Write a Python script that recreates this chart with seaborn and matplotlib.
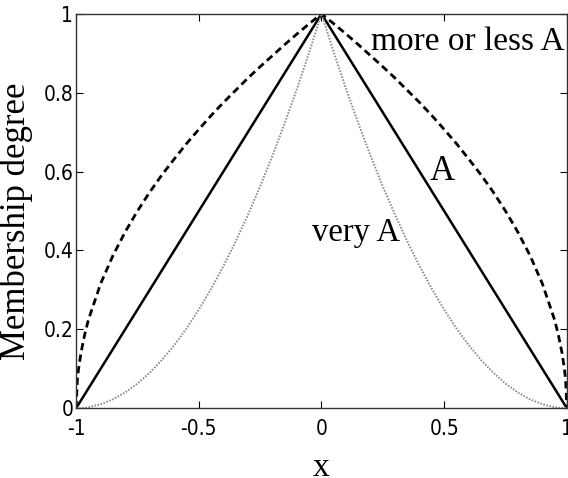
import matplotlib
matplotlib.use("Agg")
import matplotlib.pyplot as plt
import seaborn as sns

# Membership functions: A (triangular), very A (concentration), more or less A (dilation)
x_tri = [-1.0, 0.0, 1.0]
mu_A = [0.0, 1.0, 0.0]

x_hedge = [-1.0, -0.995, -0.99, -0.98, -0.965, -0.95, -0.9, -0.85, -0.8, -0.75, -0.7, -0.65,
           -0.6, -0.55, -0.5, -0.45, -0.4, -0.35, -0.3, -0.25, -0.2, -0.15, -0.1,
           -0.05, 0.0, 0.05, 0.1, 0.15, 0.2, 0.25, 0.3, 0.35, 0.4, 0.45, 0.5,
           0.55, 0.6, 0.65, 0.7, 0.75, 0.8, 0.85, 0.9, 0.95, 0.965, 0.98, 0.99, 0.995, 1.0]
mu_very = [0.0, 0.00003, 0.0001, 0.0004, 0.0012, 0.0025, 0.01, 0.0225, 0.04, 0.0625, 0.09, 0.1225,
           0.16, 0.2025, 0.25, 0.3025, 0.36, 0.4225, 0.49, 0.5625, 0.64, 0.7225, 0.81,
           0.9025, 1.0, 0.9025, 0.81, 0.7225, 0.64, 0.5625, 0.49, 0.4225, 0.36, 0.3025, 0.25,
           0.2025, 0.16, 0.1225, 0.09, 0.0625, 0.04, 0.0225, 0.01, 0.0025, 0.0012, 0.0004, 0.0001, 0.00003, 0.0]
mu_mol = [0.0, 0.071, 0.1, 0.141, 0.187, 0.224, 0.316, 0.387, 0.447, 0.5, 0.548, 0.592,
          0.632, 0.671, 0.707, 0.742, 0.775, 0.806, 0.837, 0.866, 0.894, 0.922, 0.949,
          0.975, 1.0, 0.975, 0.949, 0.922, 0.894, 0.866, 0.837, 0.806, 0.775, 0.742, 0.707,
          0.671, 0.632, 0.592, 0.548, 0.5, 0.447, 0.387, 0.316, 0.224, 0.187, 0.141, 0.1, 0.071, 0.0]

x_ticks = [-1, -0.5, 0, 0.5, 1]
x_ticklabels = ["-1", "-0.5", "0", "0.5", "1"]
y_ticks = [0, 0.2, 0.4, 0.6, 0.8, 1]
y_ticklabels = ["0", "0.2", "0.4", "0.6", "0.8", "1"]

sns.set_style("ticks")
plt.rcParams["text.color"] = "black"
plt.rcParams["axes.labelcolor"] = "black"
serif_font = "Liberation Serif"
tick_kw = dict(fontfamily="DejaVu Sans", fontstretch="condensed", fontsize=15, color="black")

fig = plt.figure(figsize=(5.68, 4.78), dpi=100)
ax = fig.add_axes([0.134, 0.146, 0.864, 0.825])

sns.lineplot(x=x_hedge, y=mu_mol, ax=ax, color="black", linewidth=2.0,
             linestyle=(0, (2.6, 1.6)), estimator=None, sort=False)
sns.lineplot(x=x_tri, y=mu_A, ax=ax, color="black", linewidth=1.8,
             estimator=None, sort=False)
sns.lineplot(x=x_hedge, y=mu_very, ax=ax, color="#8a8a8a", linewidth=1.4,
             linestyle=(0, (0.8, 0.8)), estimator=None, sort=False)

ax.set_xlim(-1, 1)
ax.set_ylim(0, 1)
ax.set_xticks(x_ticks)
ax.set_xticklabels(x_ticklabels, **tick_kw)
ax.set_yticks(y_ticks)
ax.set_yticklabels(y_ticklabels, **tick_kw)
ax.tick_params(direction="in", top=True, right=True, length=5, width=0.8, colors="black")
ax.tick_params(axis="x", pad=8)
ax.tick_params(axis="y", pad=2)
for s in ax.spines.values():
    s.set_linewidth(1.0)
    s.set_color("#333333")

ax.set_xlabel("x", fontfamily=serif_font, fontsize=24, color="black")
ax.set_ylabel("Membership degree", fontfamily=serif_font, fontsize=25, color="black")
ax.xaxis.set_label_coords(0.5, -0.112)
ax.yaxis.set_label_coords(-0.088, 0.475)

ax.text(0.992, 0.929, "more or less A", fontfamily=serif_font, fontsize=24,
        ha="right", va="center", color="black")
ax.text(0.442, 0.599, "A", fontfamily=serif_font, fontsize=25, ha="left", va="center",
        color="black")
ax.text(0.32, 0.444, "very A", fontfamily=serif_font, fontsize=23.5, ha="right", va="center",
        color="black")

fig.savefig("out.png", dpi=100)
